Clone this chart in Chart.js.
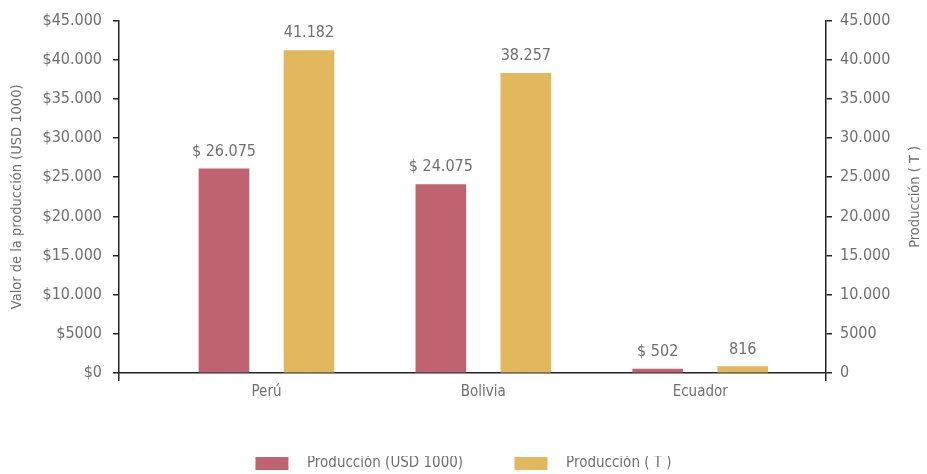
<!DOCTYPE html>
<html>
<head>
<meta charset="utf-8">
<script src="https://cdn.jsdelivr.net/npm/chart.js@4"></script>
<style>
  body { margin: 0; background: #fff; }
  #wrap { width: 927px; height: 474px; }
</style>
</head>
<body>
<div id="wrap"><canvas id="myChart"></canvas></div>
<script>
const categories = ['Perú', 'Bolivia', 'Ecuador'];
const seriesNames = ['Producción (USD 1000)', 'Producción ( T )'];
const valueUsd = [26075, 24075, 502];
const valueTons = [41182, 38257, 816];
const axisMax = 45000;
const axisStep = 5000;

const FONT = "'Liberation Sans Narrow', 'Arial Narrow', 'DejaVu Sans Condensed', Roboto, sans-serif";
const TEXT = '#6f6f6f';
const LINE = '#222';

// 26075 -> 26.075, but 5000 stays 5000 (as in the original)
function fmt(v) {
  if (v < 10000) return String(v);
  return String(v).replace(/\B(?=(\d{3})+(?!\d))/g, '.');
}

const ctx = document.getElementById('myChart').getContext('2d');

// value labels above the bars
const barLabels = {
  id: 'barLabels',
  afterDatasetsDraw(chart) {
    const c = chart.ctx;
    c.save();
    c.font = '16px ' + FONT;
    c.fillStyle = TEXT;
    c.textAlign = 'center';
    c.textBaseline = 'alphabetic';
    chart.data.datasets.forEach((ds, i) => {
      chart.getDatasetMeta(i).data.forEach((el, j) => {
        const v = ds.data[j].y;
        const txt = i === 0 ? '$ ' + fmt(v) : fmt(v);
        c.fillText(txt, el.x, el.y - 13);
      });
    });
    c.restore();
  }
};

// right axis title, reading bottom to top like the left one
const rightTitle = {
  id: 'rightTitle',
  afterDraw(chart) {
    const c = chart.ctx;
    const a = chart.chartArea;
    c.save();
    c.font = '14.5px ' + FONT;
    c.fillStyle = TEXT;
    c.textAlign = 'center';
    c.textBaseline = 'middle';
    c.translate(chart.width - 12, (a.top + a.bottom) / 2);
    c.rotate(-Math.PI / 2);
    c.fillText(seriesNames[1], 0, 0);
    c.restore();
  }
};

let chart = new Chart(ctx, {
  type: 'bar',
  data: {
    datasets: [{
      label: seriesNames[0],
      data: valueUsd.map((v, i) => ({ x: i, y: v })),
      backgroundColor: '#c06371',
      yAxisID: 'y'
    }, {
      label: seriesNames[1],
      data: valueTons.map((v, i) => ({ x: i, y: v })),
      backgroundColor: '#e2b85e',
      yAxisID: 'y1'
    }]
  },
  options: {
    responsive: true,
    maintainAspectRatio: false,
    animation: false,
    barThickness: 85,
    maxBarThickness: 50,
    layout: { padding: { top: 19, left: 0, right: 0, bottom: -7 } },
    plugins: {
      tooltip: { enabled: false },
      legend: {
        position: 'bottom',
        labels: {
          boxWidth: 33,
          boxHeight: 13,
          padding: 0,
          color: TEXT,
          font: { family: FONT, size: 15 },
          generateLabels(chart) {
            const items = Chart.defaults.plugins.legend.labels.generateLabels(chart);
            return items.map((it, i) => ({
              ...it,
              text: '\u2002 ' + it.text + (i < items.length - 1 ? '            ' : '')
            }));
          }
        }
      }
    },
    scales: {
      x: {
        type: 'linear',
        offset: false,
        min: -0.68,
        max: 2.58,
        afterBuildTicks(scale) {
          scale.ticks = [scale.min, 0, 1, 2, scale.max].map(v => ({ value: v }));
        },
        afterFit(scale) { scale.height = 83; },
        ticks: {
          autoSkip: false,
          maxRotation: 0,
          padding: 2,
          color: TEXT,
          font: { family: FONT, size: 15 },
          callback: v => categories[v] ?? ''
        },
        grid: {
          offset: false,
          drawOnChartArea: false,
          tickLength: 8,
          lineWidth: 1.5,
          color: c => (c.tick && Number.isInteger(c.tick.value)) ? 'transparent' : LINE
        },
        border: { display: true, color: LINE, width: 1.5 }
      },
      y: {
        position: 'left',
        min: 0,
        max: axisMax,
        afterFit(scale) { scale.width = 119; },
        ticks: {
          stepSize: axisStep,
          padding: 11,
          color: TEXT,
          font: { family: FONT, size: 16 },
          callback: v => '$' + fmt(v)
        },
        grid: { drawOnChartArea: false, tickLength: 6, color: LINE, lineWidth: 1.5 },
        border: { display: true, color: LINE, width: 1.5 },
        title: {
          display: true,
          text: 'Valor de la producción (USD 1000)',
          color: TEXT,
          font: { family: FONT, size: 14.5 },
          padding: { top: 9, bottom: 0 }
        }
      },
      y1: {
        position: 'right',
        min: 0,
        max: axisMax,
        afterFit(scale) { scale.width = 101; },
        ticks: {
          stepSize: axisStep,
          padding: 8,
          color: TEXT,
          font: { family: FONT, size: 16 },
          callback: v => fmt(v)
        },
        grid: { drawOnChartArea: false, tickLength: 6, color: LINE, lineWidth: 1.5 },
        border: { display: true, color: LINE, width: 1.5 }
      }
    }
  },
  plugins: [barLabels, rightTitle]
});
</script>
</body>
</html>
